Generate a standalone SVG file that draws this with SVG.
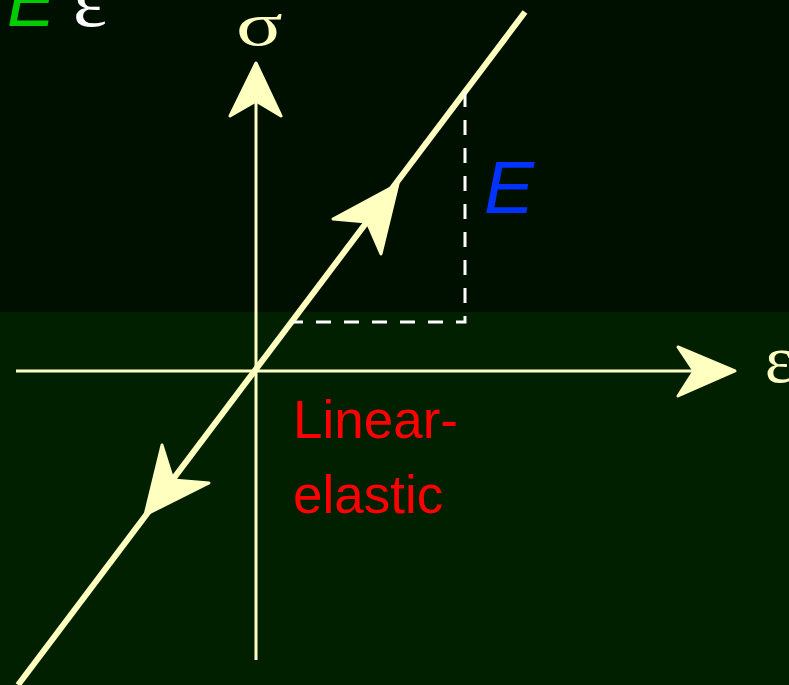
<svg xmlns="http://www.w3.org/2000/svg" width="789" height="685" viewBox="0 0 789 685">
<style>
.ax{stroke:#ffffc0;stroke-width:3;fill:none}
.main{stroke:#ffffc0;stroke-width:6;fill:none}
.head{fill:#ffffc0;stroke:#ffffc0;stroke-width:3;stroke-linejoin:round}
.dash{stroke:#ffffff;stroke-width:3;stroke-dasharray:15 13;fill:none}
.sym{font-family:"Liberation Serif","DejaVu Serif",serif;fill:#ffffc0}
.lbl{font-family:"Liberation Sans",Arial,sans-serif}
</style>
<rect x="0" y="0" width="789" height="312" fill="#001000"/>
<rect x="0" y="312" width="789" height="373" fill="#002000"/>
<g id="connectors">
<line class="ax" x1="256" y1="660" x2="256" y2="100"/>
<path class="head" d="M256,63 L281,116 L256,101 L230,116 Z"/>
<line class="ax" x1="16" y1="371" x2="700" y2="371"/>
<path class="head" d="M735,371 L678,347 L694,371 L678,396 Z"/>
<line class="main" x1="18" y1="685" x2="525" y2="12"/>
<path class="head" d="M398,184 L333,219 L367,222 L381,254 Z"/>
<path class="head" d="M145,515 L162,445 L173,480 L209,483 Z"/>
<polyline class="dash" points="465,92 465,322 293,322"/>
</g>
<g id="labels">
<text class="lbl" x="7" y="26" font-size="72" font-style="italic" fill="#00cc00">E</text>
<text x="73" y="26" font-size="74" fill="#ffffff" font-family="Liberation Serif,DejaVu Serif,serif" transform="translate(73,0) scale(1.1,1) translate(-73,0)">ε</text>
<text class="sym" x="0" y="0" font-size="62" transform="translate(236,45) scale(1.4,1)">σ</text>
<text class="lbl" x="484" y="213" font-size="75" font-style="italic" fill="#0033ff">E</text>
<text class="sym" x="765" y="382" font-size="67">ε</text>
<text class="lbl" x="293" y="438" font-size="53" fill="#ff0000">Linear-</text>
<text class="lbl" x="293" y="513" font-size="53" fill="#ff0000">elastic</text>
</g>
</svg>
